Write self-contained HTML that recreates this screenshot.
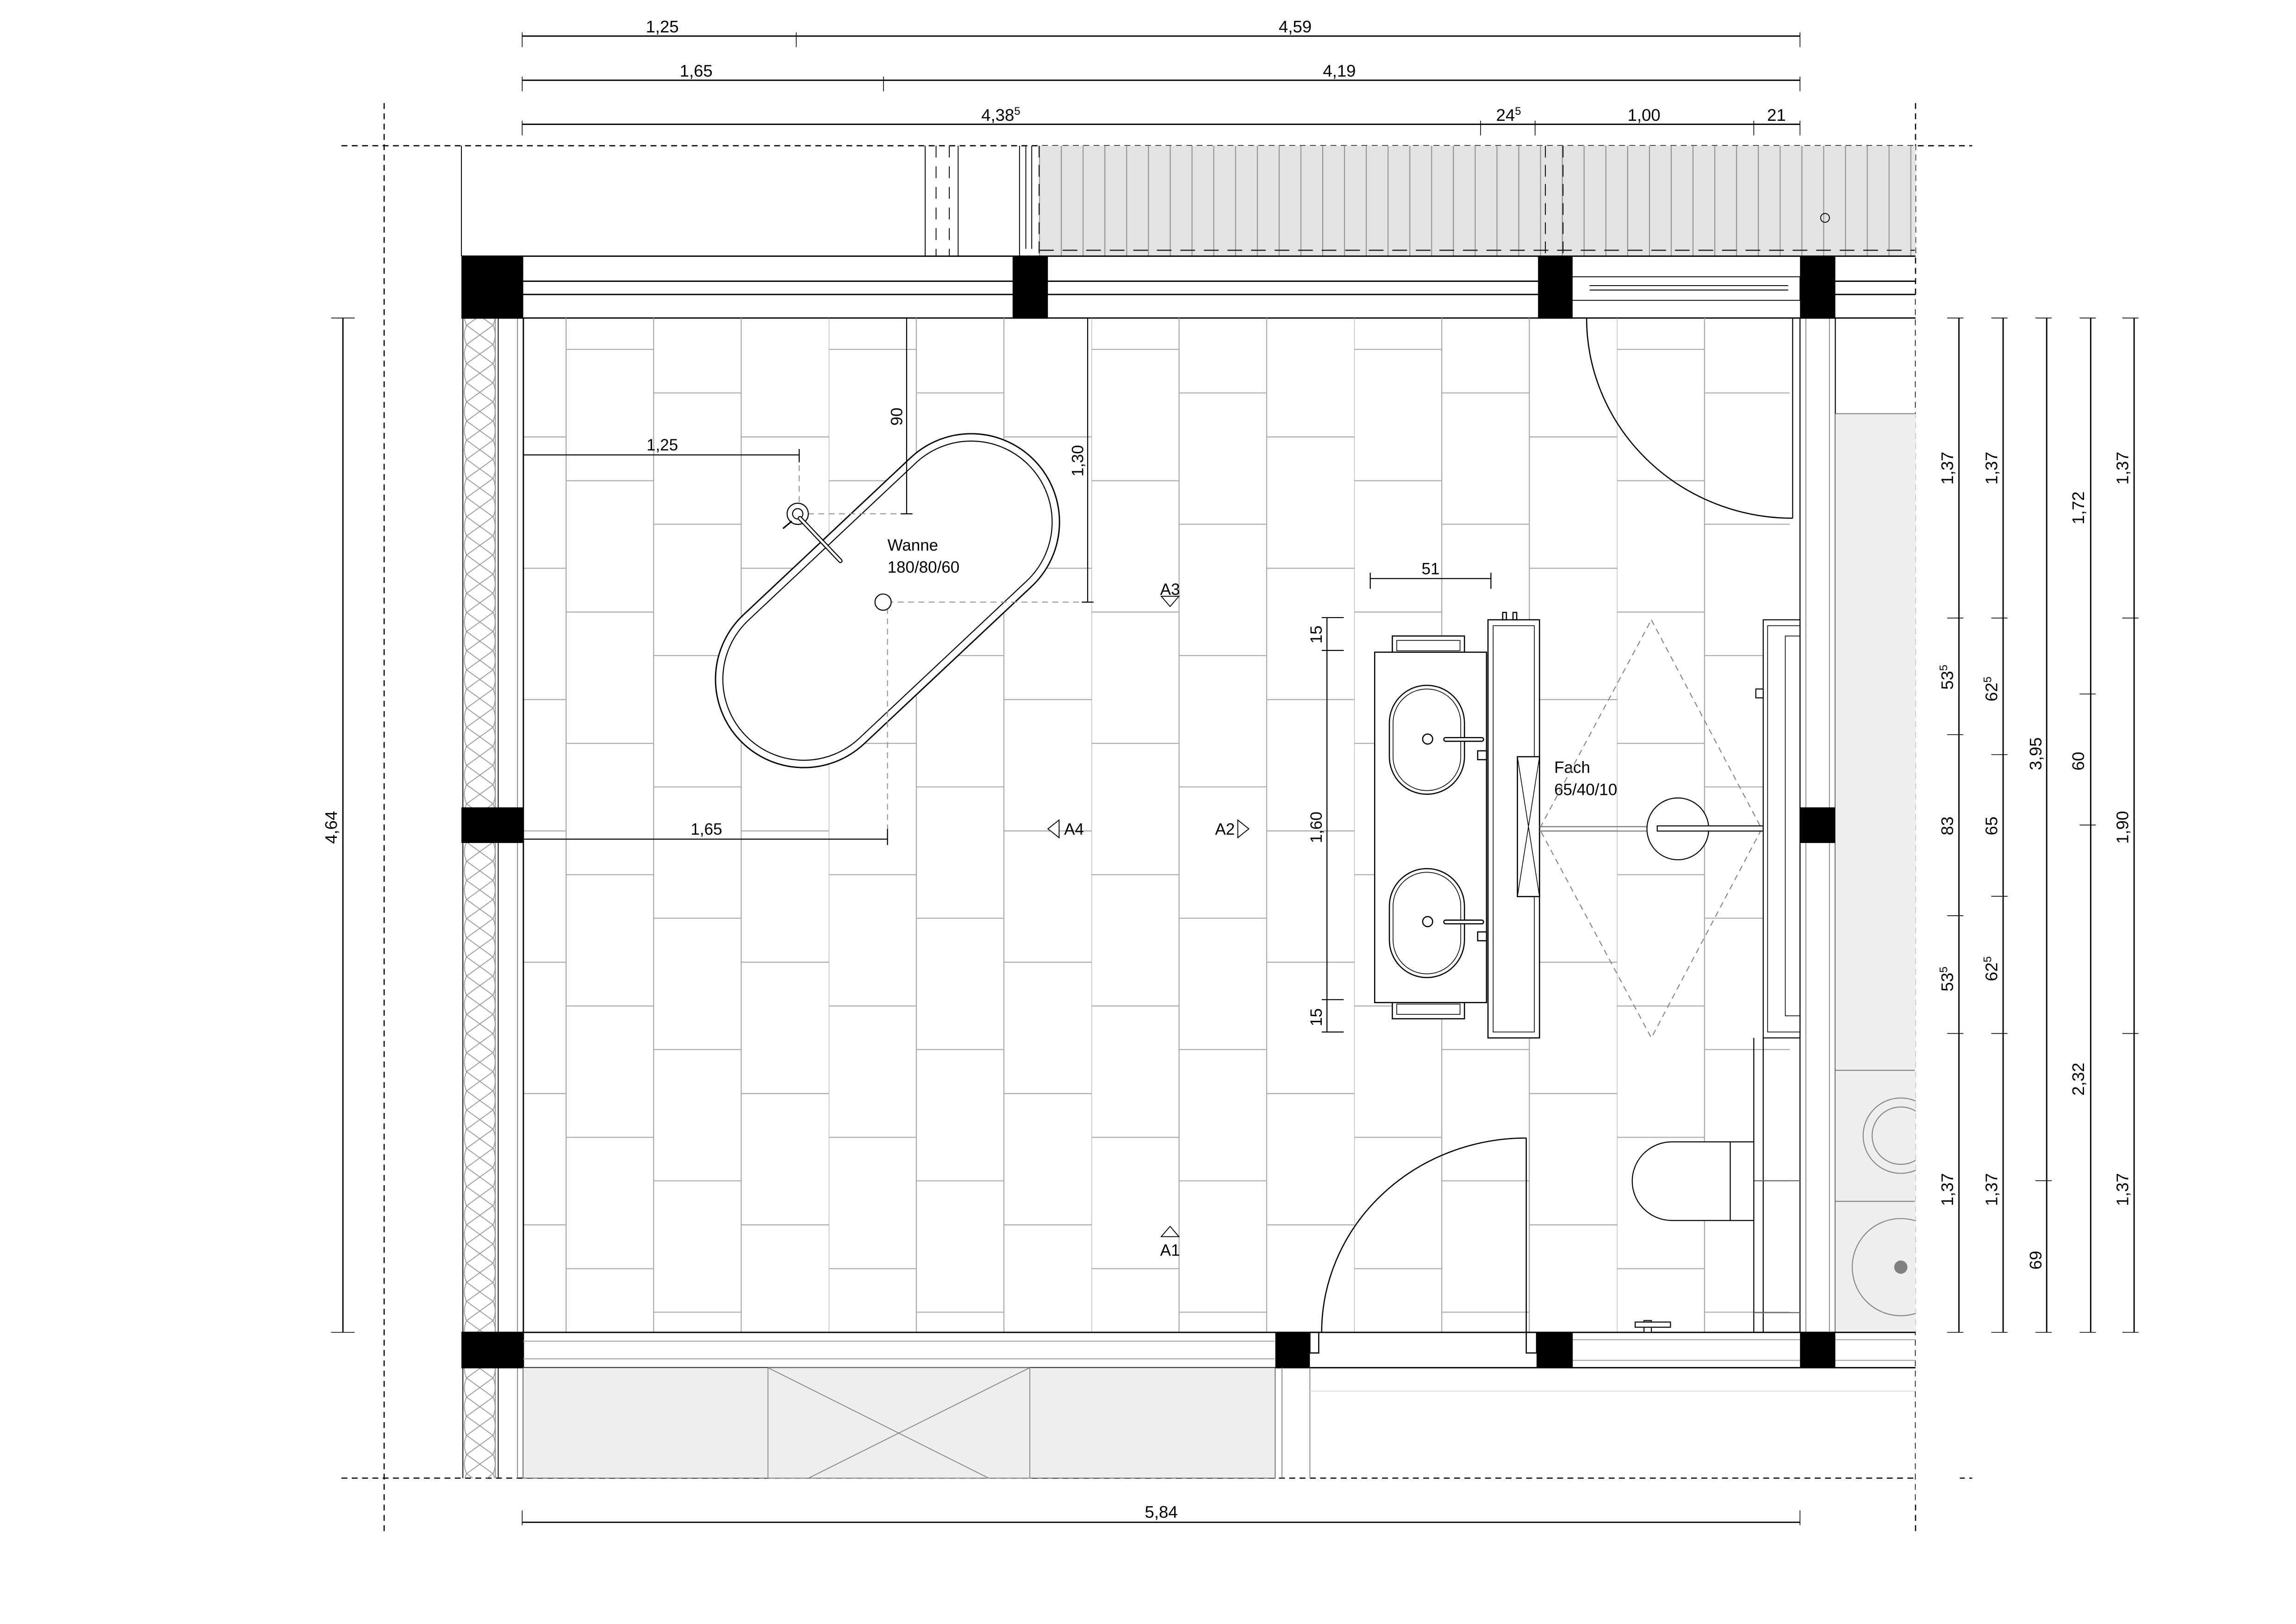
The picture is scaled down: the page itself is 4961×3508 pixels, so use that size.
<!DOCTYPE html>
<html><head><meta charset="utf-8"><style>
html,body{margin:0;padding:0;background:#fff}
svg{display:block}
text{font-family:"Liberation Sans",sans-serif;fill:#000}
</style></head><body>
<svg xmlns="http://www.w3.org/2000/svg" width="4961" height="3508" viewBox="0 0 1560 1103.1" preserveAspectRatio="none">
<defs>
<pattern id="tiles" patternUnits="userSpaceOnUse" x="384.6" y="237" width="178.5" height="89.2">
<g stroke="#a8a8a8" stroke-width="0.7" fill="none">
<line x1="0" y1="0" x2="0" y2="89.2"/><line x1="59.5" y1="0" x2="59.5" y2="89.2"/><line x1="119" y1="0" x2="119" y2="89.2"/>
<line x1="0" y1="0.3" x2="59.5" y2="0.3"/><line x1="59.5" y1="29.9" x2="119" y2="29.9"/><line x1="119" y1="59.8" x2="178.5" y2="59.8"/>
</g></pattern>
<pattern id="ins" patternUnits="userSpaceOnUse" x="315" y="0" width="22" height="13">
<g stroke="#999" stroke-width="0.6" fill="none"><path d="M2 0 L20 13 M20 0 L2 13"/><path d="M2 0 Q-1 6.5 2 13 M20 0 Q23 6.5 20 13"/></g></pattern>
<pattern id="hatch" patternUnits="userSpaceOnUse" x="706" y="0" width="14.8" height="200">
<line x1="0.3" y1="0" x2="0.3" y2="200" stroke="#8a8a8a" stroke-width="0.6"/></pattern>
</defs>

<g stroke="#000" stroke-width="0.8" stroke-dasharray="4,3" fill="none">
<line x1="232" y1="99" x2="1340" y2="99"/>
<line x1="232" y1="1004" x2="1340" y2="1004"/>
<line x1="261" y1="70" x2="261" y2="1040"/>
<line x1="1301.5" y1="70" x2="1301.5" y2="1040"/>
</g>

<rect x="706" y="99" width="595.5" height="75" fill="#e3e3e3"/>
<rect x="706" y="99" width="595.5" height="75" fill="url(#hatch)"/>
<line x1="706" y1="170" x2="1301" y2="170" stroke="#222" stroke-width="0.8" stroke-dasharray="10,6"/>
<g stroke="#000" stroke-width="0.6" fill="none">
<line x1="313.5" y1="99" x2="313.5" y2="174"/>
<line x1="628.6" y1="99" x2="628.6" y2="174"/><line x1="651" y1="99" x2="651" y2="174"/>
<line x1="636" y1="99" x2="636" y2="174" stroke-dasharray="8,6"/><line x1="645" y1="99" x2="645" y2="174" stroke-dasharray="8,6"/>
<line x1="692.7" y1="99" x2="692.7" y2="174"/><line x1="697" y1="99" x2="697" y2="169"/><line x1="701" y1="99" x2="701" y2="169"/>
<line x1="706" y1="99" x2="706" y2="174" stroke-dasharray="8,5"/>
<line x1="1050" y1="99" x2="1050" y2="174" stroke-dasharray="8,5"/><line x1="1062" y1="99" x2="1062" y2="174" stroke-dasharray="8,5"/>
<circle cx="1240" cy="148" r="3"/>
</g>

<g stroke="#000" stroke-width="0.9" fill="none">
<line x1="313.5" y1="174" x2="1301.5" y2="174"/>
<line x1="313.5" y1="216" x2="1301.5" y2="216"/>
<line x1="355" y1="191" x2="1301.5" y2="191"/>
<line x1="355" y1="200" x2="1301.5" y2="200"/>
</g>
<rect x="1068" y="188" width="155" height="16" fill="#fff" stroke="#000" stroke-width="0.6"/>
<line x1="1080" y1="194" x2="1215" y2="194" stroke="#000" stroke-width="0.6"/><line x1="1080" y1="197" x2="1215" y2="197" stroke="#000" stroke-width="0.6"/>
<line x1="1068" y1="204" x2="1068" y2="216" stroke="#000" stroke-width="0.6"/>

<rect x="355.7" y="216" width="860.3" height="689" fill="url(#tiles)"/>
<line x1="384.6" y1="216" x2="384.6" y2="905" stroke="#a8a8a8" stroke-width="0.7"/>

<rect x="314.5" y="216" width="22" height="788" fill="url(#ins)"/>
<g stroke="#000" stroke-width="0.6" fill="none">
<line x1="314.5" y1="216" x2="314.5" y2="1004"/>
<line x1="336.5" y1="216" x2="336.5" y2="1004" stroke="#888"/>
<line x1="338.5" y1="216" x2="338.5" y2="1004"/>
<line x1="351.6" y1="216" x2="351.6" y2="1004" stroke="#888"/>
<line x1="355.6" y1="216" x2="355.6" y2="1004" stroke-width="0.9"/>
</g>

<g stroke="#000" stroke-width="0.7" fill="none">
<line x1="1218" y1="216" x2="1218" y2="352"/>
<line x1="1223" y1="216" x2="1223" y2="905"/>
<line x1="1227" y1="216" x2="1227" y2="905" stroke="#999"/>
<line x1="1243" y1="216" x2="1243" y2="905" stroke="#999"/>
<line x1="1247" y1="216" x2="1247" y2="905"/>
</g>
<rect x="1247" y="281" width="54.5" height="624" fill="#eeeeee"/>
<g stroke="#888" stroke-width="0.7" fill="none">
<line x1="1247" y1="281" x2="1301" y2="281"/>
<line x1="1247" y1="727" x2="1301" y2="727"/><line x1="1247" y1="816" x2="1301" y2="816"/>
<circle cx="1291.5" cy="771.4" r="25.6"/><circle cx="1291.5" cy="771.4" r="19.5"/>
<circle cx="1291.5" cy="860.7" r="33"/>
</g>
<circle cx="1291.5" cy="860.7" r="4.5" fill="#808080"/>
<rect x="1301.6" y="200" width="30" height="820" fill="#fff"/>

<g stroke="#000" stroke-width="0.9" fill="none">
<line x1="313.5" y1="905" x2="1301.5" y2="905"/>
<line x1="313.5" y1="929" x2="1301.5" y2="929"/>
</g>
<g stroke="#999" stroke-width="0.6"><line x1="355" y1="911" x2="866" y2="911"/><line x1="355" y1="923" x2="866" y2="923"/>
<line x1="1068" y1="910" x2="1223" y2="910"/><line x1="1068" y1="924" x2="1223" y2="924"/>
<line x1="1247" y1="910" x2="1301" y2="910"/><line x1="1247" y1="924" x2="1301" y2="924"/></g>
<rect x="355.4" y="929" width="511" height="75" fill="#eeeeee" stroke="#555" stroke-width="0.5"/>
<g stroke="#888" stroke-width="0.6" fill="none">
<rect x="521.8" y="929" width="177.9" height="75"/>
<path d="M521.8 929 L671.7 1004 M699.7 929 L549.4 1004"/>
<line x1="871" y1="929" x2="871" y2="1004"/><line x1="890" y1="929" x2="890" y2="1004"/>
<line x1="890" y1="945" x2="1301" y2="945" stroke="#ddd"/>
</g>

<g fill="#000">
<rect x="313.5" y="174" width="42" height="42.5"/>
<rect x="688" y="174" width="24" height="42.5"/>
<rect x="1045" y="174" width="23.5" height="42.5"/>
<rect x="1223" y="174" width="24" height="42.5"/>
<rect x="313.5" y="548.4" width="42" height="24.2"/>
<rect x="1223" y="548.4" width="24" height="24.2"/>
<rect x="313.5" y="905" width="42" height="24"/>
<rect x="866.5" y="905" width="23.5" height="24"/>
<rect x="1044" y="905" width="24.6" height="24"/>
<rect x="1223" y="905" width="24" height="24"/>
</g>

<g stroke="#000" stroke-width="0.8" fill="none">
<path d="M1218 352 A140 136 0 0 1 1078 216"/>
<line x1="1037" y1="773" x2="1037" y2="905"/>
<path d="M1037 773 A139 132 0 0 0 898 905"/>
<rect x="890" y="905" width="6" height="14"/>
<rect x="1037" y="905" width="7" height="14"/>
</g>

<g transform="translate(603 408) rotate(46.8)" fill="#fff" stroke="#000" stroke-width="0.9">
<rect x="-60" y="-138" width="120" height="276" rx="60" ry="60"/>
<rect x="-55" y="-133" width="110" height="266" rx="55" ry="55" stroke-width="0.7"/>
</g>
<g stroke="#999" stroke-width="0.7" stroke-dasharray="4,3" fill="none">
<line x1="542" y1="349" x2="616" y2="349"/>
<line x1="603" y1="409" x2="739" y2="409"/>
<line x1="603" y1="413" x2="603" y2="570"/>
<line x1="543" y1="309" x2="543" y2="345"/>
</g>
<g stroke="#000" stroke-width="0.7" fill="#fff">
<circle cx="600" cy="409" r="5.5"/>
<circle cx="542" cy="349" r="7.2"/>
<circle cx="542" cy="349" r="3.5"/>
<path d="M543.5 352 L571 381" stroke-width="3" stroke-linecap="round"/>
<path d="M543.5 352 L571 381" stroke="#fff" stroke-width="1.6" stroke-linecap="round"/>
<path d="M538 354 L532 359" stroke-width="1"/>
</g>
<text x="603" y="374" font-size="11">Wanne</text>
<text x="603" y="389" font-size="11">180/80/60</text>

<g stroke="#000" stroke-width="0.7" fill="none">
<line x1="355.7" y1="309" x2="543" y2="309"/><line x1="543" y1="305" x2="543" y2="314"/>
<line x1="616" y1="216" x2="616" y2="349"/><line x1="612" y1="349" x2="620" y2="349"/>
<line x1="739" y1="216" x2="739" y2="409"/><line x1="735" y1="409" x2="743" y2="409"/>
<line x1="355.7" y1="570" x2="603" y2="570"/><line x1="603" y1="563" x2="603" y2="574"/>
</g>
<g font-size="11" text-anchor="middle">
<text x="450" y="306">1,25</text>
<text x="480" y="567">1,65</text>
<text transform="translate(613 283) rotate(-90)">90</text>
<text transform="translate(736 313) rotate(-90)">1,30</text>
</g>

<g stroke="#000" stroke-width="0.6" fill="#fff">
<path d="M789 405 L801 405 L795 412 Z"/>
<path d="M719.6 557 L719.6 569 L712 563 Z"/>
<path d="M841 557 L841 569 L848.5 563 Z"/>
<path d="M789 840 L801 840 L795 833 Z"/>
</g>
<text x="795" y="404" font-size="11" text-anchor="middle">A3</text>
<text x="723" y="567" font-size="11">A4</text>
<text x="839" y="567" font-size="11" text-anchor="end">A2</text>
<text x="795" y="853" font-size="11" text-anchor="middle">A1</text>

<g stroke="#000" stroke-width="0.8" fill="#fff">
<rect x="946" y="432" width="49" height="11"/><rect x="949" y="435" width="43" height="7" stroke-width="0.5"/>
<rect x="946" y="681" width="49" height="11"/><rect x="949" y="682" width="43" height="7" stroke-width="0.5"/>
<rect x="934" y="443" width="76" height="238"/>
<rect x="1011" y="421" width="35" height="284"/>
<rect x="1014.5" y="425" width="28" height="276" stroke-width="0.5" fill="none"/>
<rect x="944" y="465.5" width="51" height="74" rx="25.5" ry="25.5"/>
<rect x="946.5" y="468" width="46" height="69" rx="23" ry="23" stroke-width="0.5"/>
<rect x="944" y="590" width="51" height="74" rx="25.5" ry="25.5"/>
<rect x="946.5" y="592.5" width="46" height="69" rx="23" ry="23" stroke-width="0.5"/>
<circle cx="970" cy="502" r="3.4"/><circle cx="970" cy="626" r="3.4"/>
<rect x="981" y="501" width="27" height="2.5" rx="1.2"/><rect x="981" y="625" width="27" height="2.5" rx="1.2"/>
<rect x="1004" y="510" width="6" height="6"/><rect x="1004" y="633" width="6" height="6"/>
<rect x="1021" y="416" width="2.5" height="5"/><rect x="1028" y="416" width="2.5" height="5"/>
<rect x="1031" y="514" width="15" height="95"/>
</g>
<path d="M1031 514 L1046 609 M1046 514 L1031 609" stroke="#000" stroke-width="0.5"/>
<text x="1056" y="525" font-size="11">Fach</text>
<text x="1056" y="540" font-size="11">65/40/10</text>

<path d="M1122 421 L1197 563 L1122 705 L1046 563 Z" fill="none" stroke="#888" stroke-width="0.7" stroke-dasharray="4,3"/>
<g stroke="#000" stroke-width="0.7" fill="#fff">
<line x1="1046" y1="561.5" x2="1119" y2="561.5" stroke="#777"/>
<line x1="1046" y1="564.5" x2="1119" y2="564.5" stroke="#777"/>
<circle cx="1140" cy="563" r="21"/>
<rect x="1126" y="561" width="72" height="3.5"/>
<rect x="1198" y="421" width="25" height="284"/>
<rect x="1201" y="425" width="22" height="276" stroke-width="0.5" fill="none"/>
<rect x="1213" y="432" width="10" height="258" stroke-width="0.5" fill="none"/>
<rect x="1193" y="468" width="5" height="6"/>
<line x1="1191.6" y1="705" x2="1191.6" y2="905"/>
<line x1="1198" y1="705" x2="1198" y2="905"/>
<line x1="1191.6" y1="802" x2="1223" y2="802" stroke="#666"/>
<line x1="1191.6" y1="891.6" x2="1223" y2="891.6" stroke="#666"/>
<path d="M1136 775.6 L1191.6 775.6 L1191.6 829 L1136 829 A27 26.7 0 0 1 1136 775.6 Z"/>
<line x1="1175.6" y1="775.6" x2="1175.6" y2="829"/>
<rect x="1117" y="897" width="5" height="8"/><rect x="1111" y="898" width="24" height="3.5"/>
</g>

<g stroke="#000" stroke-width="0.7" fill="none">
<line x1="931" y1="393" x2="1013" y2="393"/><line x1="931" y1="389" x2="931" y2="400"/><line x1="1013" y1="389" x2="1013" y2="400"/>
<line x1="901.6" y1="419.5" x2="901.6" y2="701"/>
<line x1="898" y1="419.5" x2="913" y2="419.5"/><line x1="898" y1="441.8" x2="913" y2="441.8"/>
<line x1="898" y1="679" x2="913" y2="679"/><line x1="898" y1="701" x2="913" y2="701"/>
</g>
<g font-size="11" text-anchor="middle">
<text x="972" y="390">51</text>
<text transform="translate(898 431) rotate(-90)">15</text>
<text transform="translate(898 562) rotate(-90)">1,60</text>
<text transform="translate(898 691) rotate(-90)">15</text>
</g>

<g stroke="#000" stroke-width="0.9" fill="none">
<line x1="354.8" y1="24.5" x2="1223" y2="24.5"/>
<line x1="354.8" y1="54.5" x2="1223" y2="54.5"/>
<line x1="354.8" y1="84.4" x2="1223" y2="84.4"/>
</g>
<g stroke="#000" stroke-width="0.5">
<line x1="354.8" y1="22" x2="354.8" y2="32"/><line x1="541" y1="22" x2="541" y2="32"/><line x1="1223" y1="22" x2="1223" y2="32"/>
<line x1="354.8" y1="52" x2="354.8" y2="62"/><line x1="600.3" y1="52" x2="600.3" y2="62"/><line x1="1223" y1="52" x2="1223" y2="62"/>
<line x1="354.8" y1="82" x2="354.8" y2="92"/><line x1="1006" y1="82" x2="1006" y2="92"/><line x1="1043" y1="82" x2="1043" y2="92"/><line x1="1191.6" y1="82" x2="1191.6" y2="92"/><line x1="1223" y1="82" x2="1223" y2="92"/>
</g>
<g font-size="11.5" text-anchor="middle">
<text x="450" y="22">1,25</text><text x="880" y="22">4,59</text>
<text x="473" y="52">1,65</text><text x="910" y="52">4,19</text>
<text x="680" y="82">4,38<tspan font-size="7.5" dy="-4">5</tspan></text>
<text x="1025" y="82">24<tspan font-size="7.5" dy="-4">5</tspan></text>
<text x="1117" y="82">1,00</text><text x="1207" y="82">21</text>
</g>

<g stroke="#000" stroke-width="0.9" fill="none">
<line x1="233" y1="216" x2="233" y2="905"/>
<line x1="225" y1="216" x2="241" y2="216" stroke-width="0.5"/><line x1="225" y1="905" x2="241" y2="905" stroke-width="0.5"/>
<line x1="354.8" y1="1034" x2="1223" y2="1034"/>
<line x1="354.8" y1="1026" x2="354.8" y2="1036" stroke-width="0.5"/><line x1="1223" y1="1026" x2="1223" y2="1036" stroke-width="0.5"/>
</g>
<text transform="translate(229 562) rotate(-90)" font-size="11.5" text-anchor="middle">4,64</text>
<text x="789" y="1031" font-size="11.5" text-anchor="middle">5,84</text>

<g stroke="#000" stroke-width="0.9" fill="none">
<line x1="1331" y1="216" x2="1331" y2="905"/><line x1="1361" y1="216" x2="1361" y2="905"/>
<line x1="1390.6" y1="216" x2="1390.6" y2="905"/><line x1="1420.5" y1="216" x2="1420.5" y2="905"/>
<line x1="1450" y1="216" x2="1450" y2="905"/>
</g>
<g stroke="#000" stroke-width="0.5">
<path d="M1323 216h11M1323 419.8h11M1323 499h11M1323 622h11M1323 702h11M1323 905h11"/>
<path d="M1353 216h11M1353 419.8h11M1353 512.6h11M1353 608.8h11M1353 702h11M1353 905h11"/>
<path d="M1383 216h11M1383 802h11M1383 905h11"/>
<path d="M1413 216h11M1413 471.4h11M1413 560.4h11M1413 905h11"/>
<path d="M1442 216h11M1442 419.8h11M1442 702h11M1442 905h11"/>
</g>
<g font-size="11.5" text-anchor="middle">
<text transform="translate(1327 318) rotate(-90)">1,37</text>
<text transform="translate(1327 460) rotate(-90)">53<tspan font-size="7.5" dy="-4">5</tspan></text>
<text transform="translate(1327 561) rotate(-90)">83</text>
<text transform="translate(1327 665) rotate(-90)">53<tspan font-size="7.5" dy="-4">5</tspan></text>
<text transform="translate(1327 808) rotate(-90)">1,37</text>
<text transform="translate(1357 318) rotate(-90)">1,37</text>
<text transform="translate(1357 468) rotate(-90)">62<tspan font-size="7.5" dy="-4">5</tspan></text>
<text transform="translate(1357 561) rotate(-90)">65</text>
<text transform="translate(1357 658) rotate(-90)">62<tspan font-size="7.5" dy="-4">5</tspan></text>
<text transform="translate(1357 808) rotate(-90)">1,37</text>
<text transform="translate(1387 512) rotate(-90)">3,95</text>
<text transform="translate(1387 856) rotate(-90)">69</text>
<text transform="translate(1416 345) rotate(-90)">1,72</text>
<text transform="translate(1416 517) rotate(-90)">60</text>
<text transform="translate(1416 733) rotate(-90)">2,32</text>
<text transform="translate(1446 318) rotate(-90)">1,37</text>
<text transform="translate(1446 562) rotate(-90)">1,90</text>
<text transform="translate(1446 808) rotate(-90)">1,37</text>
</g>
</svg>
</body></html>
